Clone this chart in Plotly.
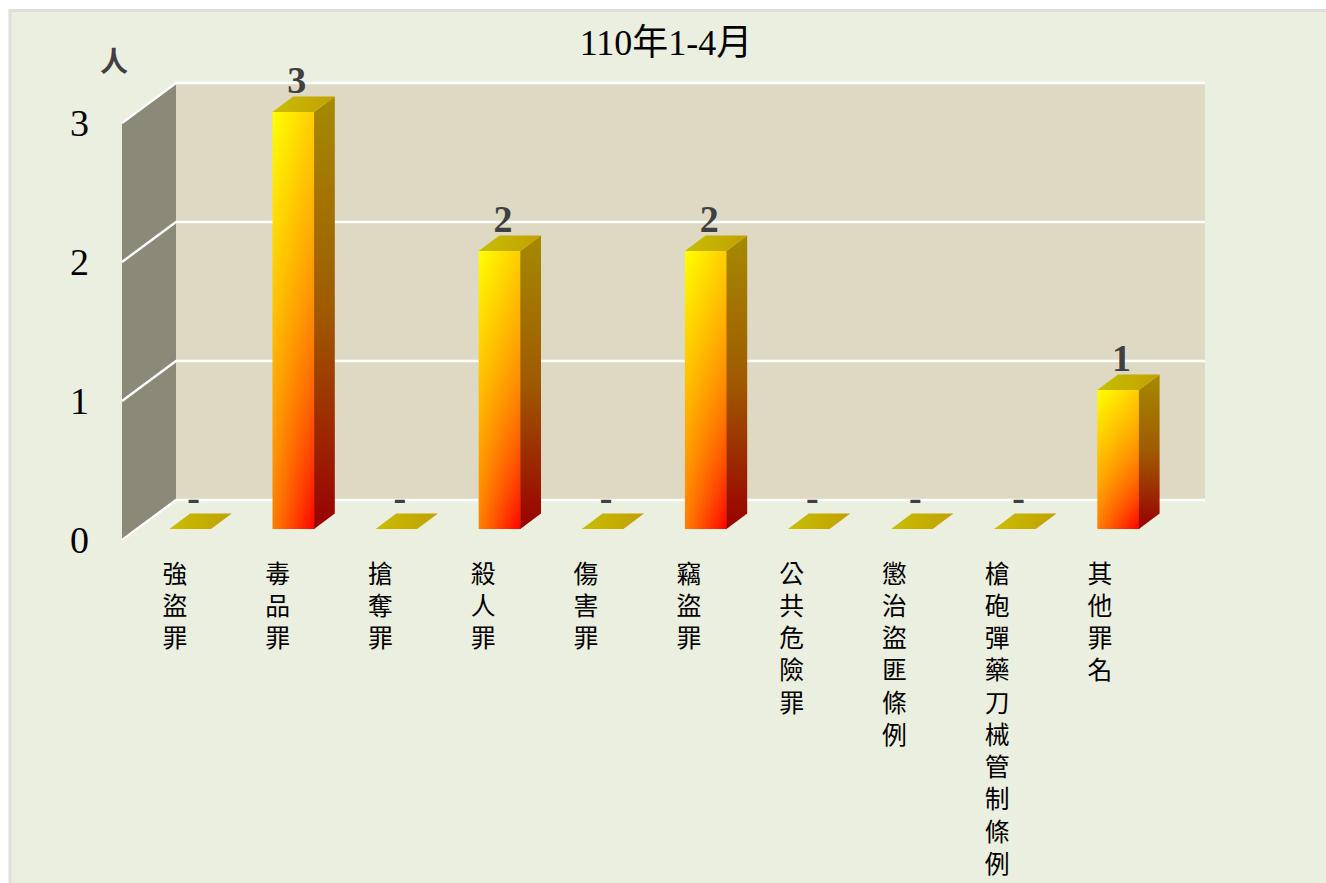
import numpy as np
import plotly.graph_objects as go

title_text = "110年1-4月"
unit_text = "人"
categories = ["強盜罪", "毒品罪", "搶奪罪", "殺人罪", "傷害罪", "竊盜罪", "公共危險罪", "懲治盜匪條例", "槍砲彈藥刀械管制條例", "其他罪名"]
values = [0, 3, 0, 2, 0, 2, 0, 0, 0, 1]
y_ticks = [0, 1, 2, 3]

W, H = 1326, 883
ML, MB = 90, H - 540
STEP = 103.1          # px per category
UNIT = 139.0          # px per value unit
X0 = 174.8            # px of category 0 on the front plane
FONT = "Liberation Serif, 'Noto Sans CJK TC', serif"
DARK = "#404040"


def dx(px):
    return px / STEP


def dy(px):
    return px / UNIT


# depth offsets, in axis units
WALL_DX, WALL_DY = dx(54), dy(40)
BAR_DX, BAR_DY = dx(15.4), dy(11)
SIDE_DX, SIDE_DY = dx(20.7), dy(15.5)
HALF = dx(20.8)
WALL_L, WALL_R = dx(122 - X0), dx(1151 - X0)

fig = go.Figure()
shapes = []


def poly(pts):
    return "M " + " L ".join(f"{x:.4f},{y:.4f}" for x, y in pts) + " Z"


# page panel
shapes.append(dict(type="rect", xref="paper", yref="paper", layer="below",
                   x0=(10 - ML) / (W - ML), x1=1.01, y0=-1, y1=(540 - 10.5) / 540,
                   fillcolor="#EBEFDF", line=dict(color="#DEDFDC", width=3)))
# back wall
ymax = max(y_ticks)
shapes.append(dict(type="rect", xref="x", yref="y", layer="below",
                   x0=WALL_L + WALL_DX, x1=WALL_R + WALL_DX, y0=WALL_DY, y1=ymax + WALL_DY,
                   fillcolor="#DED9C3", line=dict(width=0)))
# side wall
shapes.append(dict(type="path", xref="x", yref="y", layer="below",
                   path=poly([(WALL_L, 0), (WALL_L + WALL_DX, WALL_DY),
                              (WALL_L + WALL_DX, ymax + WALL_DY), (WALL_L, ymax)]),
                   fillcolor="#8B8978", line=dict(width=0)))
# gridlines
for t in y_ticks:
    shapes.append(dict(type="path", xref="x", yref="y", layer="below",
                       path=f"M {WALL_L:.4f},{t} L {WALL_L + WALL_DX:.4f},{t + WALL_DY:.4f} "
                            f"L {WALL_R + WALL_DX:.4f},{t + WALL_DY:.4f}",
                       line=dict(color="#FFFFFF", width=2.4)))

# bars
for i, v in enumerate(values):
    cx = i + BAR_DX
    xl, xr = cx - HALF, cx + HALF
    y0, y1 = BAR_DY, v + BAR_DY
    if v > 0:
        nx, ny = 21, int(round(v * 60))
        us = (np.arange(nx) + 0.5) / nx
        vs = (np.arange(ny) + 0.5) / ny
        U, V = np.meshgrid(us, vs)
        z = 0.2 * U + 0.5 * V + 0.3 * U * V ** 3
        fig.add_trace(go.Heatmap(x=xl + us * (xr - xl), y=y1 - vs * (y1 - y0), z=z,
                                 zmin=0, zmax=1, showscale=False, hoverinfo="skip",
                                 colorscale=[[0, "#FFFF00"], [1, "#FF0000"]]))
        fig.add_trace(go.Scatter(
            x=[xr, xr + SIDE_DX, xr + SIDE_DX, xr, xr],
            y=[y0, y0 + SIDE_DY, y1 + SIDE_DY, y1, y0],
            mode="lines", line=dict(width=0), fill="toself", hoverinfo="skip",
            fillgradient=dict(type="vertical",
                              colorscale=[[0, "#990000"], [0.5, "#9F5A00"], [1, "#A68A00"]])))
    fig.add_trace(go.Scatter(
        x=[xl, xr, xr + SIDE_DX, xl + SIDE_DX, xl],
        y=[y1, y1, y1 + SIDE_DY, y1 + SIDE_DY, y1],
        mode="lines", line=dict(width=0), fill="toself", hoverinfo="skip",
        fillgradient=dict(type="horizontal",
                          colorscale=[[0, "#C8BE00"], [1, "#C2A000"]])))

# data labels
fig.add_trace(go.Scatter(
    x=[i + BAR_DX + dx(3.5) for i in range(len(values))],
    y=[v + BAR_DY + dy(10) for v in values],
    text=[str(v) if v else "-" for v in values],
    mode="text", textposition="top center", hoverinfo="skip", cliponaxis=False,
    textfont=dict(family=FONT, size=38, color=DARK, weight="bold")))

fig.add_annotation(x=dx(114 - X0), y=dy(540 - 62), xref="x", yref="y", text=f"<b>{unit_text}</b>",
                   showarrow=False, font=dict(family=FONT, size=28, color=DARK))

fig.update_layout(
    width=W, height=H, showlegend=False,
    margin=dict(l=ML, r=0, t=0, b=MB, pad=0),
    paper_bgcolor="#FFFFFF", plot_bgcolor="rgba(0,0,0,0)",
    shapes=shapes,
    title=dict(text=title_text, x=666 / W, y=1 - 42 / H, xanchor="center", yanchor="middle",
               font=dict(family=FONT, size=36, color="#000000")),
    xaxis=dict(range=[dx(ML - X0), dx(W - X0)],
               tickmode="array", tickvals=[i * 102.8 / STEP for i in range(len(categories))],
               ticktext=["<br>".join(c) for c in categories], tickangle=0,
               ticks="outside", ticklen=12, tickcolor="rgba(0,0,0,0)",
               showgrid=False, zeroline=False, showline=False,
               tickfont=dict(family=FONT, size=24.8, color="#000000")),
    yaxis=dict(range=[0, 540 / UNIT], tickmode="array", tickvals=y_ticks,
               ticktext=[str(t) for t in y_ticks],
               showgrid=False, zeroline=False, showline=False,
               ticks="", ticklen=0,
               tickfont=dict(family=FONT, size=38, color="#000000")),
)

fig.write_html("out.html", config={"displayModeBar": False},
               post_script="document.body.style.margin='0';document.body.style.overflow='hidden';")
